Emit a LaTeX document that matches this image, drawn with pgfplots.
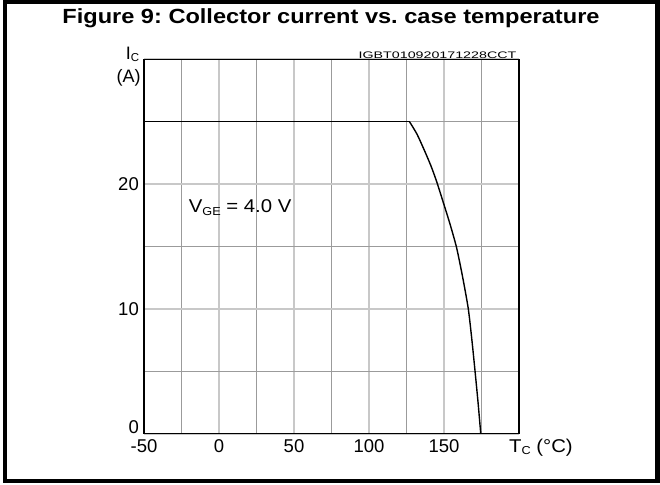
\documentclass[border=0pt]{standalone}
\usepackage{fontspec}
\setmainfont{Liberation Sans}
\usepackage{graphicx}
\usepackage{pgfplots}
\pgfplotsset{compat=1.18}
\definecolor{gmaj}{RGB}{200,200,200}
\definecolor{gmin}{RGB}{155,155,155}
\newcommand{\sub}[1]{\raisebox{-2.5pt}{\fontsize{11.5}{11.5}\selectfont #1}}
\frenchspacing
\begin{document}
\begin{tikzpicture}[x=1pt,y=1pt]
\path[use as bounding box] (0,0) rectangle (660,484);
\draw[line width=4.5pt] (5,3) rectangle (657.7,482);
\node[anchor=base, inner sep=0pt] at (331,460.7) {\scalebox{1.15}[1]{\fontsize{20.5}{21}\selectfont\bfseries Figure 9: Collector current vs. case temperature}};
\begin{axis}[
  at={(144pt,50.3pt)}, anchor=south west,
  scale only axis, width=375pt, height=374.4pt,
  xmin=-50, xmax=200, ymin=0, ymax=30,
  xtick={-50,0,50,100,150},
  xticklabels={-50,0,50,100,150},
  minor xtick={-25,25,75,125,175},
  ytick={0,10,20,30}, yticklabels={,10,20,},
  minor ytick={5,15,25},
  grid=both,
  major grid style={gmaj, line width=1.6pt},
  minor grid style={gmin, line width=0.9pt},
  major tick length=0pt, minor tick length=0pt,
  axis line style={black, line width=1.3pt},
  tick label style={font=\fontsize{18.5}{19}\selectfont},
  xticklabel style={anchor=north, inner sep=0pt, text height=13.2pt, yshift=-5pt},
  yticklabel style={anchor=east, inner sep=0pt, xshift=-5pt},
  /pgf/number format/assume math mode=true,
  clip=false,
]
\addplot[black, line width=1.4pt] coordinates {(-50,25) (127,25)};
\addplot[black, line width=1.4pt, smooth, tension=0.4] coordinates {
(127,25) (132,24.0) (137.3,22.6) (141.5,21.4) (145.1,20.2) (149.6,18.5) (154,16.8) (158.4,14.9) (162.5,12.5) (166.2,10.0) (168.6,7.5) (170.7,5.0) (172.7,2.5) (174.5,0)
};
\node[anchor=base east, inner sep=0pt, xshift=-5pt, font=\fontsize{18.5}{19}\selectfont] at (axis cs:-50,0) {0};
\node[anchor=base east, inner sep=0pt, xshift=-4.5pt, font=\fontsize{18}{18}\selectfont] at (axis cs:-50,30) {I\sub{C}};
\node[anchor=north east, inner sep=0pt, xshift=-3.3pt, yshift=-9.7pt, font=\fontsize{18}{18}\selectfont] at (axis cs:-50,30) {(A)};
\node[anchor=base east, inner sep=0pt, xshift=-2.5pt, yshift=1.2pt] at (axis cs:200,30) {\scalebox{1.5}[1]{\fontsize{9.5}{10}\selectfont IGBT010920171228CCT}};
\node[anchor=base west, inner sep=0pt] at (axis cs:-20.2,17.7) {\scalebox{1.1}[1]{\fontsize{18.5}{19}\selectfont V\sub{GE} = 4.0 V}};
\node[anchor=base west, inner sep=0pt] at (axis cs:193.3,-1.5) {\scalebox{1.1}[1]{\fontsize{18.5}{19}\selectfont T\sub{C} (°C)}};
\end{axis}
\end{tikzpicture}
\end{document}
